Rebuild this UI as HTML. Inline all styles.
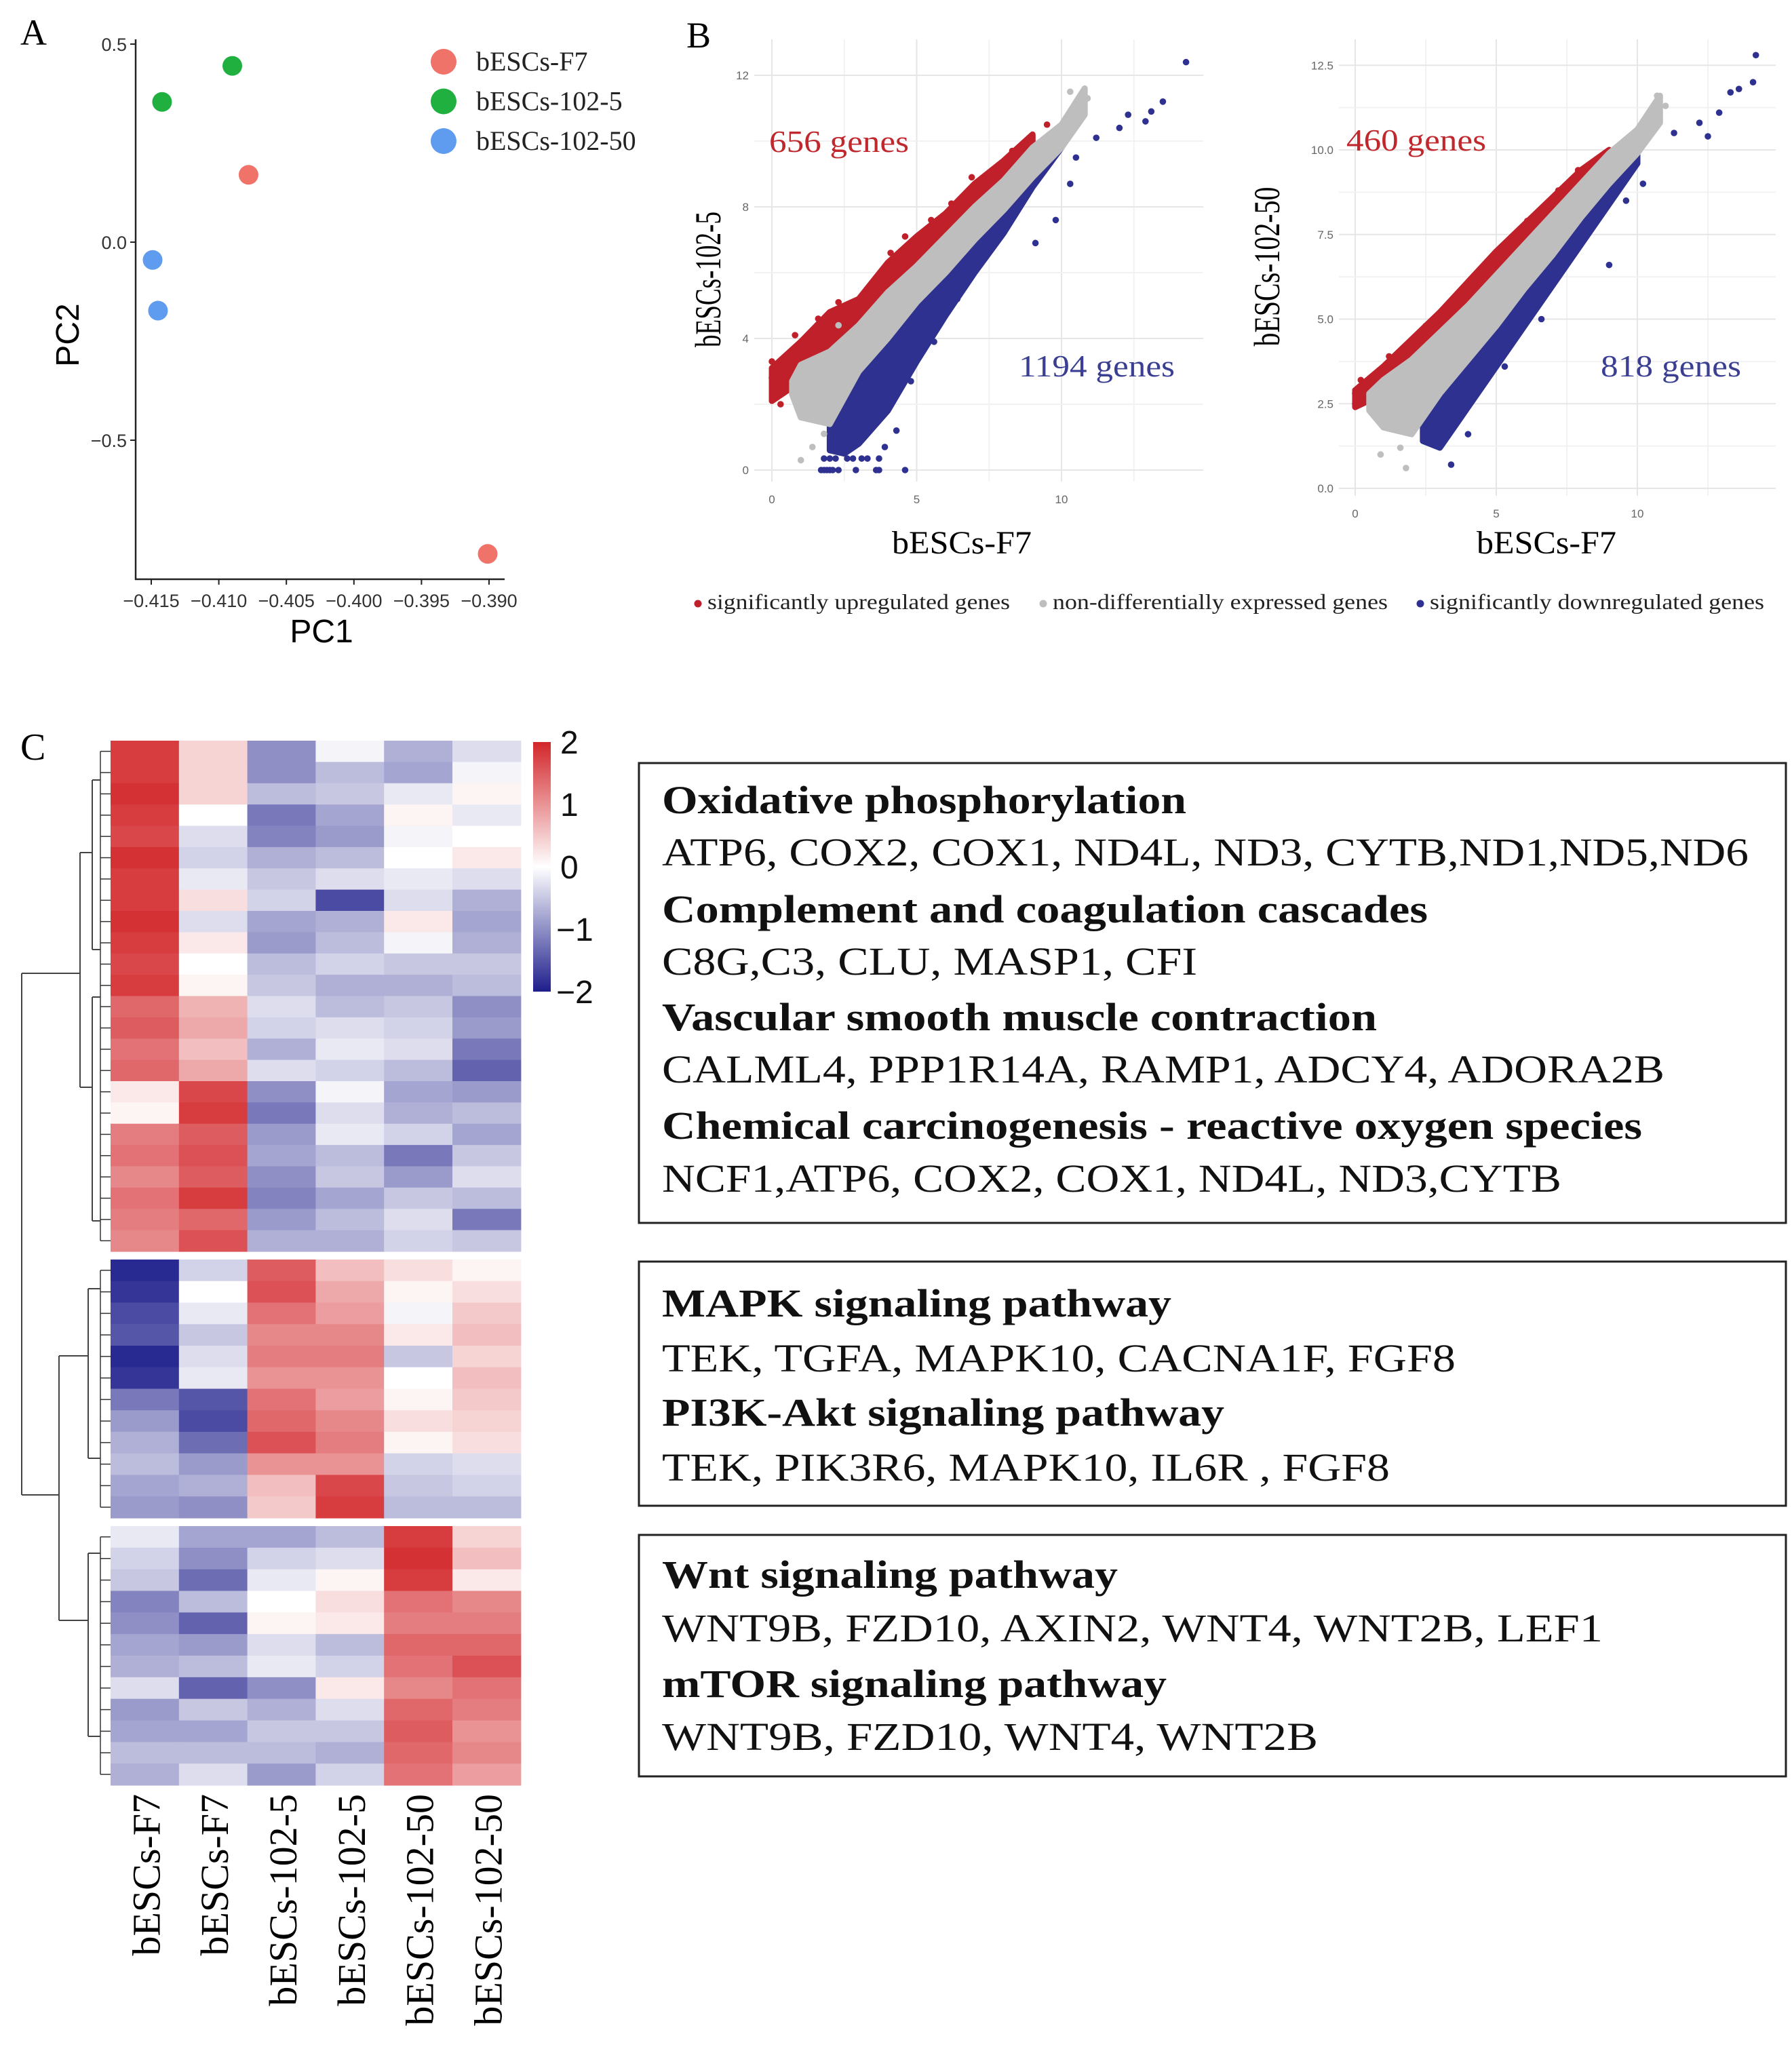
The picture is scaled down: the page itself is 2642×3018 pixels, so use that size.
<!DOCTYPE html>
<html><head><meta charset="utf-8"><style>
html,body{margin:0;padding:0;background:#fff;}
svg{display:block;}
</style></head><body>
<svg id="fig" xmlns="http://www.w3.org/2000/svg" width="2642" height="3018" viewBox="0 0 2642 3018">
<rect width="2642" height="3018" fill="#fff"/>
<g id="panelA"></g>
<g id="panelB"></g>
<g id="panelC"></g>
<g id="boxes"></g>
</svg>
<script>
// ---------- Panel A data ----------
const pcaGroups = ["bESCs-F7","bESCs-102-5","bESCs-102-50"];
const pcaColors = ["#f0736a","#1fb040","#5f9cf0"];
const pcaPC1 = [-0.4078,-0.3901,-0.4142,-0.4090,-0.4149,-0.4145];
const pcaPC2 = [0.17,-0.787,0.354,0.445,-0.045,-0.173];
const pcaGroupIdx = [0,0,1,1,2,2];
const pcaXTicks = [-0.415,-0.410,-0.405,-0.400,-0.395,-0.390];
const pcaXTickLabels = ["\u22120.415","\u22120.410","\u22120.405","\u22120.400","\u22120.395","\u22120.390"];
const pcaYTicks = [0.5,0.0,-0.5];
const pcaYTickLabels = ["0.5","0.0","\u22120.5"];

// ---------- Panel B data (band outlines in data coords: x, low, high) ----------
const L_redX = [0,1,2,3,4,5,6,7,8,9];
const L_redLo = [2.1,2.7,3.2,4.0,4.9,5.8,6.6,7.6,8.5,9.6];
const L_redHi = [3.1,3.9,4.8,5.2,6.3,7.1,7.8,8.7,9.4,10.2];
const L_greyX = [0.7,1,2,3,4,5,6,7,8,9,10,10.8];
const L_greyLo = [2.3,1.6,1.4,3.0,4.0,5.1,6.0,7.0,7.9,8.9,9.8,10.8];
const L_greyHi = [2.7,3.2,3.6,4.4,5.4,6.2,7.1,8.0,8.8,9.8,10.5,11.6];
const L_blueX = [2,2.5,3,4,5,6,7,8,9,10];
const L_blueLo = [0.6,0.5,0.8,1.8,3.3,4.7,6.0,7.2,8.6,9.8];
const L_blueHi = [1.8,2.3,3.2,4.3,5.3,6.3,7.3,8.2,9.2,10.3];
const L_blueOutX = [1.7,1.8,1.9,2.0,2.1,2.3,2.9,3.6,3.7,4.6,1.8,2.0,2.2,2.6,2.8,3.1,3.3,3.7,2.4,3.9,4.3,9.1,9.8,10.3,11.2,12.0,12.3,12.9,13.1,13.5,14.3,10.5,4.8,5.6,6.4,7.3];
const L_blueOutY = [0,0,0,0,0,0,0,0,0,0,0.35,0.35,0.35,0.35,0.35,0.35,0.35,0.35,0.7,0.7,1.2,6.9,7.6,8.7,10.1,10.4,10.8,10.6,10.9,11.2,12.4,9.5,2.7,3.9,5.2,6.4];
const L_redOutX = [0,0,0.3,0.3,9.5,8.3,0.8,1.6,2.3,3.6,4.1,4.6,5.5,6.2,6.9,7.6];
const L_redOutY = [3.3,2.8,2.3,2.0,10.5,9.7,4.1,4.6,5.1,5.6,6.6,7.1,7.6,8.1,8.9,9.1];
const L_greyOutX = [1.0,1.4,1.8,10.3,10.6,10.9,2.3];
const L_greyOutY = [0.3,0.7,1.1,11.5,10.8,11.3,4.4];
const R_redX = [0,1,2,3,4,5,6,7,8,9];
const R_redLo = [2.4,2.8,3.4,4.2,5.1,6.0,6.9,7.9,8.8,9.7];
const R_redHi = [2.9,3.6,4.4,5.2,6.1,7.0,7.8,8.6,9.4,10.0];
const R_greyX = [0.5,1,2,3,4,5,6,7,8,9,10,10.8];
const R_greyLo = [2.3,1.8,1.6,2.8,3.8,4.8,5.9,6.9,8.0,9.0,9.9,10.8];
const R_greyHi = [2.8,3.2,3.8,4.6,5.4,6.3,7.2,8.1,9.0,9.9,10.6,11.6];
const R_blueX = [2.4,3,4,5,6,7,8,9,10];
const R_blueLo = [1.4,1.2,2.4,3.6,4.8,6.0,7.2,8.4,9.6];
const R_blueHi = [2.1,2.9,3.9,4.9,6.0,7.0,8.1,9.1,10.0];
const R_blueOutX = [3.4,4.0,3.0,9.0,10.2,11.3,12.2,12.5,12.9,13.3,13.6,14.1,14.2,9.6,5.3,6.6];
const R_blueOutY = [0.7,1.6,1.3,6.6,9.0,10.5,10.8,10.4,11.1,11.7,11.8,12.0,12.8,8.5,3.6,5.0];
const R_redOutX = [0,0,0.2,7.9,1.2,2.5,3.6,4.8,6.1,7.2];
const R_redOutY = [2.8,2.5,3.2,9.4,3.9,4.8,5.6,6.8,7.9,8.8];
const R_greyOutX = [1.8,0.9,10.7,11.0,1.6];
const R_greyOutY = [0.6,1.0,11.6,11.3,1.2];
const B_leftXTicks = [0,5,10];
const B_leftYTicks = [0,4,8,12];
const B_rightXTicks = [0,5,10];
const B_rightYTicks = [0,2.5,5,7.5,10,12.5];
const B_rightYTickLabels = ["0.0","2.5","5.0","7.5","10.0","12.5"];

// ---------- Panel C data ----------
const hmColumns = ["bESCs-F7","bESCs-F7","bESCs-102-5","bESCs-102-5","bESCs-102-50","bESCs-102-50"];
const hmClusterSizes = [24,12,12];
const hmCol1 = [1.8,1.8,1.9,1.8,1.7,1.9,1.8,1.8,1.9,1.8,1.7,1.8,1.4,1.5,1.3,1.4,0.2,0.1,1.2,1.3,1.1,1.3,1.2,1.1,
  -1.9,-1.8,-1.6,-1.5,-1.9,-1.8,-1.2,-0.9,-0.7,-0.6,-0.8,-0.9,
  -0.2,-0.4,-0.5,-1.1,-1.0,-0.8,-0.7,-0.3,-0.9,-0.8,-0.6,-0.7];
const hmCol2 = [0.4,0.4,0.4,0.0,-0.3,-0.4,-0.2,0.3,-0.3,0.2,0.0,0.1,0.7,0.8,0.6,0.8,1.7,1.8,1.5,1.6,1.5,1.8,1.4,1.6,
  -0.4,0.0,-0.2,-0.5,-0.3,-0.2,-1.5,-1.6,-1.3,-0.9,-0.7,-1.0,
  -0.8,-1.0,-1.3,-0.6,-1.4,-0.9,-0.6,-1.4,-0.5,-0.8,-0.6,-0.3];
const hmCol3 = [-1.0,-1.0,-0.6,-1.2,-1.1,-0.7,-0.5,-0.4,-0.8,-0.9,-0.6,-0.5,-0.3,-0.4,-0.7,-0.3,-1.0,-1.2,-0.9,-0.8,-1.0,-1.1,-0.9,-0.7,
  1.5,1.6,1.3,1.1,1.2,1.0,1.3,1.4,1.6,1.0,0.6,0.5,
  -0.8,-0.4,-0.2,0.0,0.1,-0.3,-0.2,-1.0,-0.7,-0.5,-0.6,-0.9];
const hmCol4 = [-0.1,-0.6,-0.5,-0.8,-0.9,-0.6,-0.3,-1.6,-0.7,-0.6,-0.4,-0.7,-0.6,-0.3,-0.2,-0.4,-0.1,-0.3,-0.2,-0.6,-0.5,-0.8,-0.6,-0.7,
  0.6,0.8,0.9,1.1,1.2,1.0,0.9,1.1,1.2,1.0,1.7,1.8,
  -0.6,-0.3,0.1,0.3,0.2,-0.6,-0.4,0.2,-0.3,-0.5,-0.7,-0.4];
const hmCol5 = [-0.7,-0.8,-0.2,0.1,-0.1,0.0,-0.2,-0.3,0.2,-0.1,-0.5,-0.7,-0.5,-0.4,-0.3,-0.6,-0.8,-0.7,-0.4,-1.2,-0.9,-0.5,-0.3,-0.4,
  0.3,0.1,-0.1,0.2,-0.5,0.0,0.1,0.3,0.1,-0.4,-0.5,-0.6,
  1.8,1.9,1.8,1.3,1.2,1.4,1.3,1.1,1.4,1.5,1.4,1.3];
const hmCol6 = [-0.3,-0.1,0.1,-0.2,0.0,0.2,-0.3,-0.7,-0.8,-0.7,-0.5,-0.6,-1.0,-0.9,-1.2,-1.4,-0.9,-0.6,-0.8,-0.5,-0.3,-0.6,-1.2,-0.5,
  0.1,0.3,0.5,0.6,0.4,0.6,0.5,0.4,0.3,-0.3,-0.4,-0.6,
  0.4,0.6,0.2,1.1,1.2,1.4,1.6,1.3,1.2,1.0,1.1,0.9];
const cbTicks = [2,1,0,-1,-2];
const cbTickLabels = ["2","1","0","\u22121","\u22122"];

const NS = "http://www.w3.org/2000/svg";
function mk(tag, attrs, parent){ const e=document.createElementNS(NS,tag); for(const k in attrs) e.setAttribute(k,attrs[k]); parent.appendChild(e); return e; }
function txt(parent, s, attrs){ const t=mk("text",attrs,parent); t.textContent=s; return t; }

// ===== Panel A =====
(function(){
  const g=document.getElementById("panelA");
  const xS=v=>223+(v-(-0.415))/0.005*99.6;
  const yS=v=>357-v*584;
  let e;
  e=txt(g,"A",{x:30,y:66,"font-family":"Liberation Serif, serif","font-size":54});
   
  e=mk("line",{x1:200,y1:58,x2:200,y2:855,stroke:"#222","stroke-width":2.5},g);
   
  e=mk("line",{x1:199,y1:854,x2:744,y2:854,stroke:"#222","stroke-width":2.5},g);
   
  pcaXTicks.forEach((v,i)=>{
    mk("line",{x1:xS(v),y1:854,x2:xS(v),y2:862,stroke:"#222","stroke-width":2},g);
    const t=txt(g,pcaXTickLabels[i],{x:xS(v),y:885+10,"text-anchor":"middle","font-family":"Liberation Sans, sans-serif","font-size":27,fill:"#333"});
     
  });
  pcaYTicks.forEach((v,i)=>{
    mk("line",{x1:192,y1:yS(v),x2:200,y2:yS(v),stroke:"#222","stroke-width":2},g);
    const t=txt(g,pcaYTickLabels[i],{x:187,y:yS(v)+10,"text-anchor":"end","font-family":"Liberation Sans, sans-serif","font-size":27,fill:"#333"});
     
  });
  e=txt(g,"PC1",{x:474,y:947,"text-anchor":"middle","font-family":"Liberation Sans, sans-serif","font-size":48});
   
  e=txt(g,"PC2",{x:0,y:0,"text-anchor":"middle","font-family":"Liberation Sans, sans-serif","font-size":48,transform:"translate(116,494) rotate(-90)"});
   
  pcaPC1.forEach((v,i)=>{
    const c=mk("circle",{cx:xS(v),cy:yS(pcaPC2[i]),r:14.5,fill:pcaColors[pcaGroupIdx[i]]},g);
     
  });
  pcaGroups.forEach((s,i)=>{
    const y=91+i*58.5;
    const c=mk("circle",{cx:654,cy:y,r:19,fill:pcaColors[i]},g);
     
    const t=txt(g,s,{x:702,y:y+13,"font-family":"Liberation Serif, serif","font-size":40,fill:"#222"});
     
  });
})();

// ===== Panel B =====
function bandPath(xS,yS,X,Lo,Hi){
  let d="M"+X.map((x,i)=>xS(x)+","+yS(Hi[i])).join(" L");
  for(let i=X.length-1;i>=0;i--) d+=" L"+xS(X[i])+","+yS(Lo[i]);
  return d+" Z";
}
function scatterPlot(g,cfg){
  const xS=v=>cfg.x0+v*cfg.px;
  const yS=v=>cfg.y0-v*cfg.py;
  for(let v=cfg.xmin;v<=cfg.xmax;v+=cfg.xstep/2){
    mk("line",{x1:xS(v),y1:cfg.top,x2:xS(v),y2:cfg.bot,stroke:(Math.abs(v/cfg.xstep-Math.round(v/cfg.xstep))<1e-6)?"#e6e6e6":"#f2f2f2","stroke-width":2},g);
  }
  for(let v=cfg.ymin;v<=cfg.ymax;v+=cfg.ystep/2){
    mk("line",{x1:cfg.left,y1:yS(v),x2:cfg.right,y2:yS(v),stroke:(Math.abs(v/cfg.ystep-Math.round(v/cfg.ystep))<1e-6)?"#e6e6e6":"#f2f2f2","stroke-width":2},g);
  }
  cfg.xticks.forEach(v=>{
    const t=txt(g,String(v),{x:xS(v),y:cfg.bot+32,"text-anchor":"middle","font-family":"Liberation Sans, sans-serif","font-size":17,fill:"#666"});
     
  });
  cfg.yticks.forEach((v,i)=>{
    const t=txt(g,cfg.ylabels[i],{x:cfg.left-8,y:yS(v)+6,"text-anchor":"end","font-family":"Liberation Sans, sans-serif","font-size":17,fill:"#666"});
     
  });
  const bands=[["red",cfg.red,"#c0202a"],["blue",cfg.blue,"#2e3190"],["grey",cfg.grey,"#bebebe"]];
  bands.forEach(b=>{
    const p=mk("path",{d:bandPath(xS,yS,b[1][0],b[1][1],b[1][2]),fill:b[2],stroke:b[2],"stroke-width":9,"stroke-linejoin":"round"},g);
     
  });
  const outs=[[cfg.redOut,"#c0202a","red"],[cfg.blueOut,"#2e3190","blue"],[cfg.greyOut,"#bebebe","grey"]];
  outs.forEach(o=>{
    o[0][0].forEach((x,i)=>{
      const c=mk("circle",{cx:xS(x),cy:yS(o[0][1][i]),r:4.8,fill:o[1]},g);
       
    });
  });
}
(function(){
  const g=document.getElementById("panelB");
  let e=txt(g,"B",{x:1012,y:70,"font-family":"Liberation Serif, serif","font-size":54});
   
  const gl=mk("g",{},g);  
  scatterPlot(gl,{x0:1138,px:42.7,y0:693,py:48.5,left:1112,right:1774,top:58,bot:710,
    xmin:-0.0,xmax:14.9,xstep:5,ymin:0,ymax:13.1,ystep:4,xticks:B_leftXTicks,yticks:B_leftYTicks,ylabels:B_leftYTicks.map(String),
    red:[L_redX,L_redLo,L_redHi],grey:[L_greyX,L_greyLo,L_greyHi],blue:[L_blueX,L_blueLo,L_blueHi],
    redOut:[L_redOutX,L_redOutY],blueOut:[L_blueOutX,L_blueOutY],greyOut:[L_greyOutX,L_greyOutY]});
  const gr=mk("g",{},g);  
  scatterPlot(gr,{x0:1998,px:41.6,y0:720,py:49.9,left:1974,right:2618,top:58,bot:731,
    xmin:0,xmax:14.9,xstep:5,ymin:0,ymax:13.1,ystep:2.5,xticks:B_rightXTicks,yticks:B_rightYTicks,ylabels:B_rightYTickLabels,
    red:[R_redX,R_redLo,R_redHi],grey:[R_greyX,R_greyLo,R_greyHi],blue:[R_blueX,R_blueLo,R_blueHi],
    redOut:[R_redOutX,R_redOutY],blueOut:[R_blueOutX,R_blueOutY],greyOut:[R_greyOutX,R_greyOutY]});
  const ann=[["656 genes",1134,224,"#c0282d",206],["1194 genes",1502,555,"#3b3f92",230],["460 genes",1985,222,"#c0282d",206],["818 genes",2360,555,"#3b3f92",207]];
  ann.forEach(a=>{
    const t=txt(g,a[0],{x:a[1],y:a[2],"font-family":"Liberation Serif, serif","font-size":46,fill:a[3],textLength:a[4],lengthAdjust:"spacingAndGlyphs"});
     
  });
  [["bESCs-102-5",1062,412,200],["bESCs-102-50",1886,393,235]].forEach(a=>{
    const t=txt(g,a[0],{x:0,y:0,"text-anchor":"middle","font-family":"Liberation Serif, serif","font-size":54,transform:"translate("+a[1]+","+a[2]+") rotate(-90)",textLength:a[3],lengthAdjust:"spacingAndGlyphs"});
     
  });
  [["bESCs-F7",1418],["bESCs-F7",2280]].forEach(a=>{
    const t=txt(g,a[0],{x:a[1],y:816,"text-anchor":"middle","font-family":"Liberation Serif, serif","font-size":48,textLength:206,lengthAdjust:"spacingAndGlyphs"});
     
  });
  const leg=[["significantly upregulated genes",1029,"#c0202a",446],["non-differentially expressed genes",1538,"#bebebe",494],["significantly downregulated genes",2094,"#2e3190",493]];
  leg.forEach(l=>{
    const c=mk("circle",{cx:l[1],cy:890,r:5.5,fill:l[2]},g);
     
    const t=txt(g,l[0],{x:l[1]+14,y:898,"font-family":"Liberation Serif, serif","font-size":32,fill:"#222",textLength:l[3],lengthAdjust:"spacingAndGlyphs"});
     
  });
})();

// ===== Panel C =====
function hmColor(v){
  v=Math.max(-2,Math.min(2,v));
  if(v>=0){ const t=v/2; return "rgb("+Math.round(255+(210-255)*t)+","+Math.round(255+(38-255)*t)+","+Math.round(255+(42-255)*t)+")"; }
  const t=-v/2; return "rgb("+Math.round(255+(30-255)*t)+","+Math.round(255+(30-255)*t)+","+Math.round(255+(140-255)*t)+")";
}
(function(){
  const g=document.getElementById("panelC");
  let e=txt(g,"C",{x:30,y:1120,"font-family":"Liberation Serif, serif","font-size":56});
   
  const cols=[hmCol1,hmCol2,hmCol3,hmCol4,hmCol5,hmCol6];
  const clusterY=[[1092,1845],[1857,2238],[2250,2632]];
  const x0=163, cw=100.8;
  let r0=0;
  hmClusterSizes.forEach((n,ci)=>{
    const [ya,yb]=clusterY[ci]; const rh=(yb-ya)/n;
    for(let r=0;r<n;r++){
      cols.forEach((col,c)=>{
        const rect=mk("rect",{x:x0+c*cw,y:ya+r*rh,width:cw+0.6,height:rh+0.6,fill:hmColor(col[r0+r])},g);
         
      });
    }
    for(let r=0;r<n;r++){
      mk("line",{x1:148,y1:ya+(r+0.5)*rh,x2:163,y2:ya+(r+0.5)*rh,stroke:"#333","stroke-width":1.5},g);
    }
    mk("line",{x1:148,y1:ya+rh*0.5,x2:148,y2:yb-rh*0.5,stroke:"#333","stroke-width":1.5},g);
    r0+=n;
  });
  const dd=mk("path",{d:"M32,1435 L32,2204 M32,1435 L118,1435 M118,1257 L118,1603 M118,1257 L136,1257 M118,1603 L136,1603 M136,1150 L136,1400 M136,1470 L136,1800 M136,1150 L148,1150 M136,1400 L148,1400 M136,1470 L148,1470 M136,1800 L148,1800 M32,2204 L87,2204 M87,1999 L87,2389 M87,1999 L130,1999 M87,2389 L130,2389 M130,1900 L130,2150 M130,2290 L130,2560 M130,1900 L148,1900 M130,2150 L148,2150 M130,2290 L148,2290 M130,2560 L148,2560",fill:"none",stroke:"#444","stroke-width":2},g);
   
  const defs=mk("defs",{},g);
  const lg=mk("linearGradient",{id:"cbg",x1:0,y1:0,x2:0,y2:1},defs);
  [2,1,0,-1,-2].forEach((v,i)=>mk("stop",{offset:i/4,"stop-color":hmColor(v)},lg));
  const cbY=v=>1094+(2-v)/4*368;
  e=mk("rect",{x:786,y:1094,width:26,height:368,fill:"url(#cbg)"},g);
   
  cbTicks.forEach((v,i)=>{
    const t=txt(g,cbTickLabels[i],{x:v<0?820:826,y:cbY(v)+17,"font-family":"Liberation Sans, sans-serif","font-size":48,fill:"#111"});
     
  });
  hmColumns.forEach((s,c)=>{
    const cx=x0+(c+0.5)*cw+22;
    const t=txt(g,s,{x:0,y:0,"text-anchor":"end","font-family":"Liberation Serif, serif","font-size":58,transform:"translate("+cx+",2645) rotate(-90)"});
     
  });
})();

// ===== Pathway boxes =====
const boxRects=[[942,1125,1691,678],[942,1860,1691,360],[942,2263,1691,356]];
const boxLines=[
  [["Oxidative phosphorylation",1,1199,773],["ATP6, COX2, COX1, ND4L,  ND3,  CYTB,ND1,ND5,ND6",0,1276,1602],["Complement and coagulation cascades",1,1360,1129],["C8G,C3, CLU,  MASP1,  CFI",0,1437,789],["Vascular smooth muscle contraction",1,1519,1054],["CALML4,  PPP1R14A, RAMP1,  ADCY4,  ADORA2B",0,1596,1478],["Chemical carcinogenesis - reactive oxygen species",1,1679,1445],["NCF1,ATP6, COX2,  COX1, ND4L,  ND3,CYTB",0,1757,1326]],
  [["MAPK  signaling pathway",1,1941,751],["TEK,  TGFA, MAPK10,  CACNA1F, FGF8",0,2022,1170],["PI3K-Akt signaling pathway",1,2102,829],["TEK, PIK3R6,  MAPK10,  IL6R ,  FGF8",0,2183,1073]],
  [["Wnt signaling pathway",1,2341,672],["WNT9B,  FZD10, AXIN2,  WNT4,  WNT2B,  LEF1",0,2420,1387],["mTOR signaling pathway",1,2502,744],["WNT9B,  FZD10,  WNT4,  WNT2B",0,2580,967]]
];
(function(){
  const g=document.getElementById("boxes");
  boxRects.forEach((b,i)=>{
    const r=mk("rect",{x:b[0],y:b[1],width:b[2],height:b[3],fill:"none",stroke:"#222","stroke-width":3},g);
     
    boxLines[i].forEach(l=>{
      const t=txt(g,l[0],{x:976,y:l[2],"font-family":"Liberation Serif, serif","font-size":58,"font-weight":l[1]?"bold":"normal",fill:"#111",textLength:l[3],lengthAdjust:"spacingAndGlyphs"});
       
    });
  });
})();
</script>
</body></html>
